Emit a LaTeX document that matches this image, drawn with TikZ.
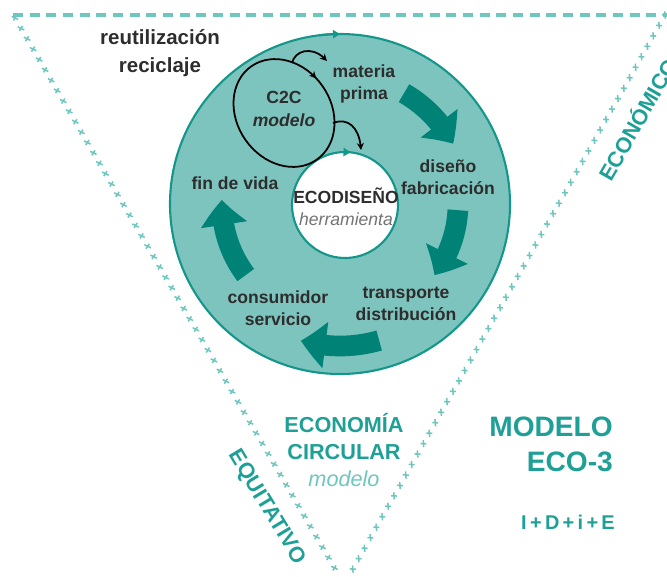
\documentclass[tikz,border=0pt]{standalone}
\usepackage{fontspec}
\setmainfont{Liberation Sans}
\usepackage{xcolor}
\definecolor{verdeAzulado}{RGB}{20,150,138}
\definecolor{verdeClaro}{RGB}{126,196,190}
\definecolor{verdeOscuro}{RGB}{0,130,118}
\definecolor{turquesa}{RGB}{30,160,150}
\definecolor{menta}{RGB}{110,198,190}
\definecolor{grisOscuro}{RGB}{45,45,45}
\definecolor{gris}{RGB}{115,115,115}
\usepackage{tikz}
\usetikzlibrary{arrows.meta,bending,calc,decorations.markings}
\tikzstyle{anillo}=[fill=verdeClaro, draw=verdeAzulado, line width=1.8pt]
\tikzstyle{hueco}=[fill=white, draw=verdeAzulado, line width=1.8pt]
\tikzstyle{punta}=[verdeAzulado, line width=1.8pt,
                   -{Triangle[length=6pt,width=7pt]}]
\tikzstyle{flecha}=[verdeOscuro, line width=0.62cm,
                    -{Triangle[length=0.75cm,width=1.35cm,bend]}]
\tikzstyle{retorno}=[black, line width=1.5pt,
                     -{Stealth[length=6pt,width=6pt]}]
\tikzstyle{etiqueta}=[text=grisOscuro, align=center, inner sep=0pt,
                      font=\fontsize{15}{19}\selectfont\bfseries]
\tikzstyle{titulo}=[text=turquesa, inner sep=0pt,
                    font=\fontsize{18.5}{23}\selectfont\bfseries]
\tikzstyle{tope}=[menta, line width=2.6pt, dash pattern=on 0.3cm off 0.2cm]
\tikzstyle{lado}=[postaction={decorate}, decoration={markings,
                  mark=between positions 0 and 1 step 0.36cm with
                  {\draw[menta, line width=1.3pt] (-0.09,-0.06) -- (0.09,0.06)
                   (-0.04,0.08) -- (0.04,-0.08);}}]

\begin{document}
\begin{tikzpicture}
    \useasboundingbox (0,0) rectangle (20.01,-17.28);
    \clip (0,0) rectangle (20.01,-17.28);

    % triangulo
    \coordinate (topIzq) at (0.39,-0.45);
    \coordinate (topDer) at (20.1,-0.45);
    \coordinate (esqIzq) at (0.45,-0.54);
    \coordinate (esqDer) at (19.95,-0.45);
    \coordinate (vertIzq) at (10.14,-17.22);
    \coordinate (vertDer) at (10.5,-17.22);
    \draw[tope] (topIzq) -- (topDer);
    \path[lado] (esqIzq) -- (vertIzq);
    \path[lado] (esqDer) -- (vertDer);

    % ciclo
    \coordinate (centro) at (10.2,-6.12);
    \coordinate (ojo) at (10.35,-6.15);
    \draw[anillo] (centro) circle (5.1);
    \draw[hueco] (ojo) circle (1.59);
    \draw[punta] (centro) ++(97:5.1) arc (97:90:5.1);
    \draw[punta] (ojo) ++(93:1.59) arc (93:84:1.59);
    \foreach \a/\b/\r in {60/28/3.84, -3/-37/3.54, -74/-106/4.26, -143/-182/3.54}
        \draw[flecha] (centro) ++(\a:\r) arc (\a:\b:\r);

    % C2C
    \coordinate (c2c) at (8.52,-3.39);
    \draw[line width=1.5pt, rotate around={35:(c2c)}, postaction={decorate},
          decoration={markings, mark=at position 0.03 with
          {\arrowreversed{Stealth[length=6pt,width=6pt]}}}]
          (c2c) ellipse (1.41 and 1.71);
    \coordinate (sal1) at (8.76,-1.89);
    \coordinate (lleg1) at (9.81,-1.83);
    \draw[retorno] (sal1) .. controls (8.85,-1.5) and (9.4,-1.35) .. (lleg1);
    \coordinate (sal2) at (9.99,-3.69);
    \coordinate (lleg2) at (10.83,-4.5);
    \draw[retorno] (sal2) .. controls (10.5,-3.5) and (10.8,-3.9) .. (lleg2);

    % etiquetas
    \draw (8.52,-3.27) node (modeloC) [etiqueta] {C2C\\{\itshape modelo}};
    \draw (4.8,-1.6) node (reutil) [etiqueta,
          font=\fontsize{17.5}{24}\selectfont\bfseries] {reutilización\\reciclaje};
    \draw (10.92,-2.52) node (materia) [etiqueta] {materia\\prima};
    \draw (13.44,-5.31) node (diseno) [etiqueta] {diseño\\fabricación};
    \draw (7.05,-5.49) node (finvida) [etiqueta] {fin de vida};
    \draw (10.38,-6.21) node (ecodiseno) [etiqueta]
          {ECODISEÑO\\{\mdseries\itshape\color{gris}herramienta}};
    \draw (12.18,-9.12) node (transporte) [etiqueta] {transporte\\distribución};
    \draw (8.34,-9.24) node (consumidor) [etiqueta] {consumidor\\servicio};

    \draw (10.32,-13.5) node (circular) [titulo, align=center]
          {ECONOMÍA\\CIRCULAR\\{\mdseries\itshape\color{menta}modelo}};
    \draw (18.39,-13.34) node (eco3) [titulo, anchor=east, align=right,
          font=\fontsize{24}{30}\selectfont\bfseries] {MODELO\\ECO-3};
    \draw (18.45,-15.66) node (idi) [titulo, anchor=east,
          font=\fontsize{17}{20}\selectfont\bfseries] {I\,+\,D\,+\,i\,+\,E};
    \draw (19.11,-3.57) node (economico) [titulo, rotate=60] {ECONÓMICO};
    \draw (8.0,-15.22) node (equitativo) [titulo, rotate=-59] {EQUITATIVO};

\end{tikzpicture}
\end{document}
